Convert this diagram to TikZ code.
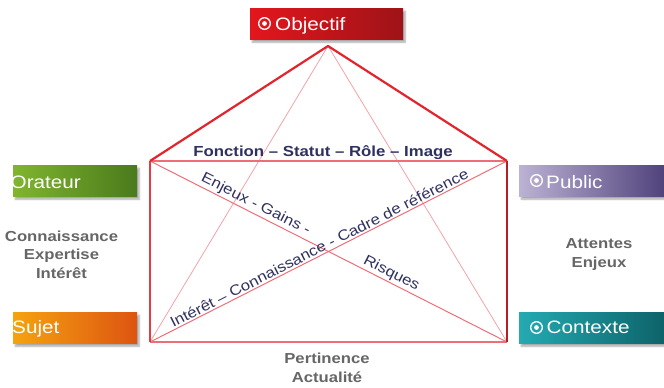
\documentclass[tikz,border=0pt]{standalone}
\usepackage{fontspec}
\newfontfamily\arialx{Liberation Sans}[FakeStretch=1.15]
\usetikzlibrary{shadows.blur}
\definecolor{objL}{HTML}{E3161D}
\definecolor{objR}{HTML}{9E1318}
\definecolor{oraL}{HTML}{80B52F}
\definecolor{oraR}{HTML}{4A7A1C}
\definecolor{sujL}{HTML}{F5A30F}
\definecolor{sujR}{HTML}{DD5411}
\definecolor{pubL}{HTML}{BCB2D4}
\definecolor{pubR}{HTML}{483B76}
\definecolor{ctxL}{HTML}{24AAB2}
\definecolor{ctxR}{HTML}{0C5E64}
\definecolor{navy}{HTML}{2E3060}
\definecolor{grayt}{HTML}{666666}
\definecolor{redthick}{HTML}{E2252D}
\definecolor{redmid}{HTML}{EE6E77}
\definecolor{redlight}{HTML}{F4A2A8}
\tikzset{
  boxshape/.style={rectangle, inner sep=0pt, anchor=north west,
    blur shadow={shadow xshift=2pt, shadow yshift=-3pt, shadow blur steps=6, shadow opacity=35}},
  boxtext/.style={anchor=base west, inner sep=0pt, text=white, font=\arialx\fontsize{18}{20}\selectfont},
  graytext/.style={align=center, inner sep=0pt, text=grayt, font=\arialx\bfseries\fontsize{14.5}{18.5}\selectfont},
  diagtext/.style={sloped, above, inner sep=1.5pt, text=navy, font=\arialx\fontsize{14.6}{16}\selectfont},
  bullet/.style={draw=white, line width=1.3pt}
}
\begin{document}
\begin{tikzpicture}[x=1pt,y=-1pt]
\useasboundingbox (0,0) rectangle (664,388);

% corners
\coordinate (apex) at (328,46);
\coordinate (TL) at (150,161);
\coordinate (TR) at (507,161);
\coordinate (BL) at (150,342);
\coordinate (BR) at (507,342);

% thin lines from apex to bottom corners
\draw[redlight, line width=0.8pt] (apex) -- (BL);
\draw[redlight, line width=0.8pt] (apex) -- (BR);
% diagonals
\draw[redmid, line width=1pt] (TL) -- (BR)
  node[diagtext, pos=0.285] (enjeux) {Enjeux - Gains -}
  node[diagtext, pos=0.665] (risques) {Risques};
\draw[redmid, line width=1pt] (BL) -- (TR)
  node[diagtext, pos=0.483] (interet) {Intérêt – Connaissance - Cadre de référence};
% rectangle
\draw[redmid, line width=1.5pt] (TL) -- (TR);
\draw[redmid, line width=1.5pt] (BL) -- (BR);
\draw[redthick!90!white, line width=2pt] (TL) -- (BL);
\draw[redthick!80!black, line width=2pt] (TR) -- (BR);
% roof
\draw[redthick, line width=2.2pt, line join=round] (TL) -- (apex) -- (TR);

% boxes
\node[boxshape, minimum width=153pt, minimum height=31pt, left color=objL, right color=objR] (objbox) at (250,8) {};
\node[boxshape, minimum width=124pt, minimum height=31pt, left color=oraL, right color=oraR] (orabox) at (13,165) {};
\node[boxshape, minimum width=124pt, minimum height=31pt, left color=sujL, right color=sujR] (sujbox) at (13,312) {};
\node[boxshape, minimum width=155pt, minimum height=31pt, left color=pubL, right color=pubR] (pubbox) at (519,165) {};
\node[boxshape, minimum width=155pt, minimum height=31pt, left color=ctxL, right color=ctxR] (ctxbox) at (519,312) {};

% box texts
\draw[bullet] (264.5,23.5) circle (5.8pt);
\fill[white] (264.5,23.5) circle (2.4pt);
\node[boxtext] (objtxt) at (275,30) {Objectif};

\begin{scope}
\clip (13,150) rectangle (140,350);
\node[boxtext] (oratxt) at (10.5,188) {Orateur};
\node[boxtext] (sujtxt) at (12,333) {Sujet};
\end{scope}

\draw[bullet] (536.5,180.5) circle (5.8pt);
\fill[white] (536.5,180.5) circle (2.4pt);
\node[boxtext] (pubtxt) at (546,188) {Public};

\draw[bullet] (536.5,327.5) circle (5.8pt);
\fill[white] (536.5,327.5) circle (2.4pt);
\node[boxtext] (ctxtxt) at (546.5,333.5) {Contexte};

% top label
\node[anchor=base, inner sep=0pt, text=navy, font=\arialx\bfseries\fontsize{14.6}{16}\selectfont] (fonction) at (323,156) {Fonction – Statut – Rôle – Image};

% gray texts (anchor = baseline of the last line)
\node[graytext, anchor=base] (orateurdesc) at (61.5,278) {Connaissance\\Expertise\\Intérêt};
\node[graytext, anchor=base] (publicdesc) at (599,267) {Attentes\\Enjeux};
\node[graytext, anchor=base] (sujetdesc) at (327,382) {Pertinence\\Actualité};
\end{tikzpicture}
\end{document}
